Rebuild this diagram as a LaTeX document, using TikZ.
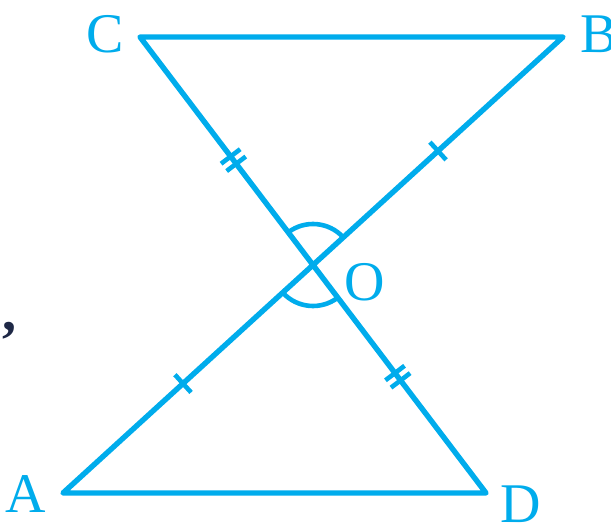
\documentclass[tikz,border=0pt]{standalone}
\usepackage{fontspec}
\setmainfont{Liberation Serif}
\usetikzlibrary{calc}
\definecolor{geo}{RGB}{0,172,236}
\definecolor{ink}{RGB}{30,40,70}
\begin{document}
\begin{tikzpicture}[x=0.5pt,y=0.5pt,
  seg/.style={draw=geo, line width=2.7pt, line join=round, line cap=round},
  tickmk/.style={draw=geo, line width=2.3pt},
  lbl/.style={text=geo, font=\fontsize{28}{32}\selectfont, inner sep=0pt}]
\useasboundingbox (0,0) rectangle (611,525);
\coordinate (C) at (140,488);
\coordinate (B) at (563,488);
\coordinate (O) at (313,260);
\coordinate (A) at (63,32);
\coordinate (D) at (486,32);
\draw[seg] (C) -- (B) -- (A) -- (D) -- cycle;
% single ticks
\coordinate (t1) at ($(O)!0.5!(B)$);
\coordinate (t2) at ($(O)!0.52!(A)$);
\draw[tickmk] ($(t1)!6pt!90:(B)$) -- ($(t1)!6pt!-90:(B)$);
\draw[tickmk] ($(t2)!6pt!90:(A)$) -- ($(t2)!6pt!-90:(A)$);
% double ticks
\coordinate (d1) at ($(O)!0.46!(C)$);
\coordinate (d2) at ($(O)!0.49!(D)$);
\coordinate (d1a) at ($(d1)!2.3pt!(C)$);
\coordinate (d1b) at ($(d1)!2.3pt!(O)$);
\coordinate (d2a) at ($(d2)!2.3pt!(D)$);
\coordinate (d2b) at ($(d2)!2.3pt!(O)$);
\draw[tickmk] ($(d1a)!6pt!90:(C)$) -- ($(d1a)!6pt!-90:(C)$);
\draw[tickmk] ($(d1b)!6pt!90:(C)$) -- ($(d1b)!6pt!-90:(C)$);
\draw[tickmk] ($(d2a)!6pt!90:(D)$) -- ($(d2a)!6pt!-90:(D)$);
\draw[tickmk] ($(d2b)!6pt!90:(D)$) -- ($(d2b)!6pt!-90:(D)$);
% angle arcs
\draw[tickmk] (O) ++(127.2:20.5pt) arc[start angle=127.2, end angle=42.4, radius=20.5pt];
\draw[tickmk] (O) ++(222.4:20.5pt) arc[start angle=222.4, end angle=307.2, radius=20.5pt];
% labels
\node[lbl] (lC) at (105,491) {C};
\node[lbl] (lB) at (599,491) {B};
\node[lbl] (lO) at (365,243) {O};
\node[lbl] (lA) at (26,31) {A};
\node[lbl] (lD) at (521,21) {D};
\node[text=ink, font=\bfseries\fontsize{28}{32}\selectfont, inner sep=0pt] (comma) at (10,194) {,};
\end{tikzpicture}
\end{document}
